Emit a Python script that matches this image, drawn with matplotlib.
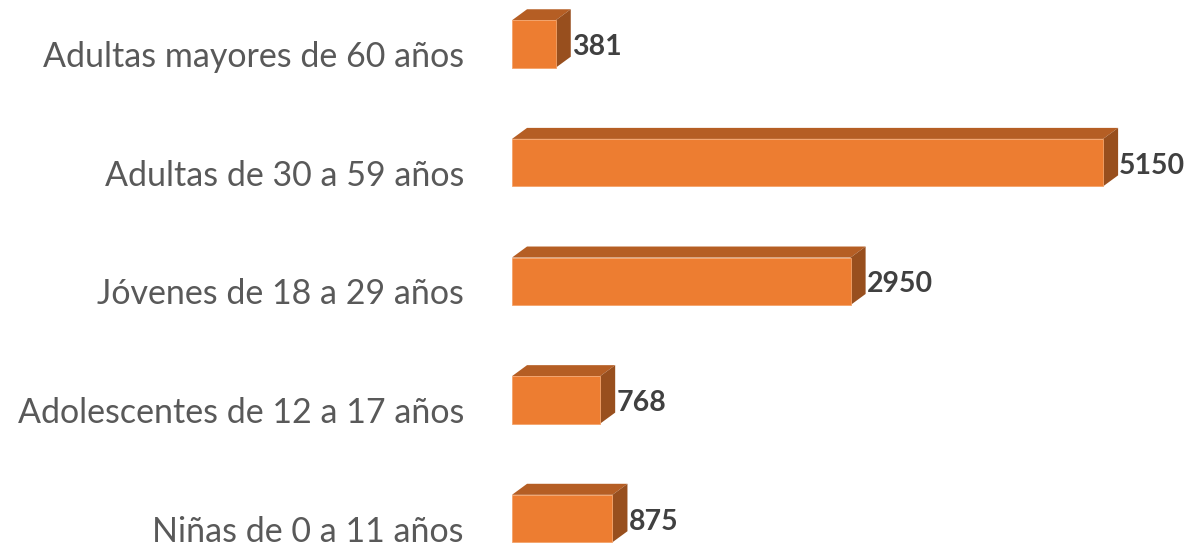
import matplotlib.pyplot as plt
import matplotlib.transforms as mtransforms
from matplotlib.patches import Polygon

categories = ['Niñas de 0 a 11 años', 'Adolescentes de 12 a 17 años',
              'Jóvenes de 18 a 29 años', 'Adultas de 30 a 59 años',
              'Adultas mayores de 60 años']
values = [875, 768, 2950, 5150, 381]

front_color = '#ED7D31'
top_color = '#B55E24'
side_color = '#984F1E'

plt.rcParams['font.family'] = ['Lato', 'DejaVu Sans']

fig = plt.figure(figsize=(11.88, 5.45), dpi=100)
ax = fig.add_axes([512 / 1188, 0, 676 / 1188, 1])
ax.set_xlim(0, 5890)
ax.set_ylim(-0.223, 4.371)
ax.axis('off')

bar_h = 0.40
# 3D depth in data units (about 15px right, 11px up)
dx = 131
dy = 0.093

for i, (cat, val) in enumerate(zip(categories, values)):
    y0 = i - bar_h / 2
    y1 = i + bar_h / 2
    ax.barh(i, val, height=bar_h, color=front_color, edgecolor='#F4A36A',
            linewidth=0.6, zorder=3)
    top = Polygon([(0, y1), (val, y1), (val + dx, y1 + dy), (dx, y1 + dy)],
                  closed=True, facecolor=top_color, edgecolor='none', zorder=2)
    side = Polygon([(val, y0), (val + dx, y0 + dy), (val + dx, y1 + dy), (val, y1)],
                   closed=True, facecolor=side_color, edgecolor='none', zorder=2)
    ax.add_patch(top)
    ax.add_patch(side)

    lab_tr = mtransforms.offset_copy(ax.transData, fig=fig, x=-48, y=-13, units='dots')
    ax.text(0, i, cat, transform=lab_tr, ha='right', va='center',
            fontsize=24.5, color='#595959', clip_on=False)

    val_tr = mtransforms.offset_copy(ax.transData, fig=fig, x=1, y=-3, units='dots')
    ax.text(val + dx, i, str(val), transform=val_tr, ha='left', va='center',
            fontsize=20.5, fontweight='bold', color='#404040', clip_on=False)

fig.savefig('out.png', dpi=100, facecolor='white')
